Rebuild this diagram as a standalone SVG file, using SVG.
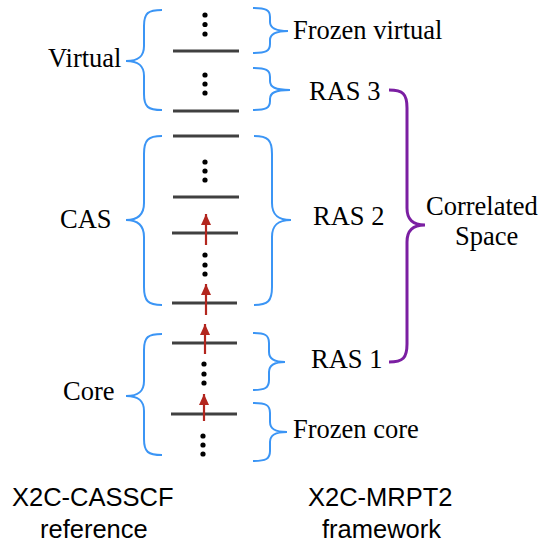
<svg xmlns="http://www.w3.org/2000/svg" width="541" height="544" viewBox="0 0 541 544">
<style>
.lv{stroke:#404040;stroke-width:3;fill:none}
.br{stroke:#3b95f5;stroke-width:2;fill:none}
.pb{stroke:#7b1fa2;stroke-width:3;fill:none}
.ar{stroke:#b3261e;stroke-width:2.2;fill:none}
.dt{fill:#000}
.t{font-family:"Liberation Serif","Times New Roman",serif;font-size:26.5px;fill:#000}
.s{font-family:"Liberation Sans",Arial,sans-serif;font-size:25.5px;fill:#000}
</style>
<defs>
<marker id="ah" markerUnits="userSpaceOnUse" markerWidth="12" markerHeight="12" refX="11" refY="5" orient="auto">
<path d="M0,0 L11,5 L0,10 z" fill="#b3261e"/>
</marker>
</defs>
<rect width="541" height="544" fill="#fff"/>
<g id="levels">
<line class="lv" x1="173" y1="51" x2="239" y2="51"/>
<line class="lv" x1="173" y1="111" x2="239" y2="111"/>
<line class="lv" x1="173" y1="136" x2="239" y2="136"/>
<line class="lv" x1="173" y1="197" x2="239" y2="197"/>
<line class="lv" x1="172" y1="233" x2="238" y2="233"/>
<line class="lv" x1="172" y1="303" x2="237" y2="303"/>
<line class="lv" x1="172" y1="343" x2="237" y2="343"/>
<line class="lv" x1="171" y1="414" x2="237" y2="414"/>
</g>
<g id="dots">
<circle class="dt" cx="205" cy="15" r="2.6"/><circle class="dt" cx="205" cy="24.5" r="2.6"/><circle class="dt" cx="205" cy="34" r="2.6"/>
<circle class="dt" cx="205" cy="75" r="2.6"/><circle class="dt" cx="205" cy="84" r="2.6"/><circle class="dt" cx="205" cy="93" r="2.6"/>
<circle class="dt" cx="205" cy="162" r="2.6"/><circle class="dt" cx="205" cy="171" r="2.6"/><circle class="dt" cx="205" cy="180" r="2.6"/>
<circle class="dt" cx="205" cy="255" r="2.6"/><circle class="dt" cx="205" cy="265" r="2.6"/><circle class="dt" cx="205" cy="274" r="2.6"/>
<circle class="dt" cx="204" cy="364" r="2.6"/><circle class="dt" cx="204" cy="374" r="2.6"/><circle class="dt" cx="204" cy="383" r="2.6"/>
<circle class="dt" cx="203" cy="436" r="2.6"/><circle class="dt" cx="203" cy="445" r="2.6"/><circle class="dt" cx="203" cy="454" r="2.6"/>
</g>
<g id="connectors">
<line class="ar" x1="206" y1="245" x2="206" y2="214" marker-end="url(#ah)"/>
<line class="ar" x1="206" y1="315" x2="206" y2="284" marker-end="url(#ah)"/>
<line class="ar" x1="205" y1="354" x2="205" y2="324" marker-end="url(#ah)"/>
<line class="ar" x1="204" y1="421" x2="204" y2="394" marker-end="url(#ah)"/>
</g>
<g id="virtual">
<path class="br" d="M162,10 C148,10 144,13 144,26 L144,46 C144,56 139,61 126,61 C139,61 144,66 144,76 L144,94 C144,107 148,110 162,110"/>
<text class="t" x="48" y="67">Virtual</text>
</g>
<g id="cas">
<path class="br" d="M162,136 C148,136 144,140 144,154 L144,203 C144,214 139,220 126,220 C139,220 144,226 144,237 L144,287 C144,301 148,305 162,305"/>
<text class="t" x="60" y="228">CAS</text>
</g>
<g id="core">
<path class="br" d="M162,334 C148,334 144,337 144,350 L144,381 C144,391 139,396 126,396 C139,396 144,401 144,411 L144,439 C144,452 148,455 162,455"/>
<text class="t" x="63" y="400">Core</text>
</g>
<g id="frozen-virtual">
<path class="br" d="M253,8 C266,8 270,10 270,17 L270,22 C270,28 275,31 288,31 C275,31 270,34 270,40 L270,44 C270,51 266,53 253,53"/>
<text class="t" x="293" y="39">Frozen virtual</text>
</g>
<g id="ras3">
<path class="br" d="M253,68 C266,68 270,70 270,77 L270,81 C270,87 275,90 290,90 C275,90 270,93 270,99 L270,101 C270,108 266,110 253,110"/>
<text class="t" x="309" y="100">RAS 3</text>
</g>
<g id="ras2">
<path class="br" d="M254,136 C268,136 272,140 272,154 L272,203 C272,214 277,220 291,220 C277,220 272,226 272,237 L272,287 C272,301 268,305 254,305"/>
<text class="t" x="313" y="225">RAS 2</text>
</g>
<g id="ras1">
<path class="br" d="M253,333 C265,333 269,335 269,343 L269,352 C269,359 274,362 285,362 C274,362 269,365 269,372 L269,380 C269,388 265,390 253,390"/>
<text class="t" x="311" y="368">RAS 1</text>
</g>
<g id="frozen-core">
<path class="br" d="M253,403 C266,403 270,405 270,413 L270,422 C270,429 275,432 287,432 C275,432 270,435 270,442 L270,451 C270,459 266,461 253,461"/>
<text class="t" x="293" y="438">Frozen core</text>
</g>
<g id="correlated-space">
<path class="pb" d="M389,90 C403,90 407,94 407,108 L407,208 C407,219 412,225 425,225 C412,225 407,231 407,242 L407,344 C407,358 403,362 389,362"/>
<text class="t" x="426" y="215">Correlated</text>
<text class="t" x="455" y="245">Space</text>
</g>
<g id="reference-label">
<text class="s" x="12" y="506">X2C-CASSCF</text>
<text class="s" x="40" y="538">reference</text>
</g>
<g id="framework-label">
<text class="s" x="308" y="506">X2C-MRPT2</text>
<text class="s" x="322" y="538">framework</text>
</g>
</svg>
